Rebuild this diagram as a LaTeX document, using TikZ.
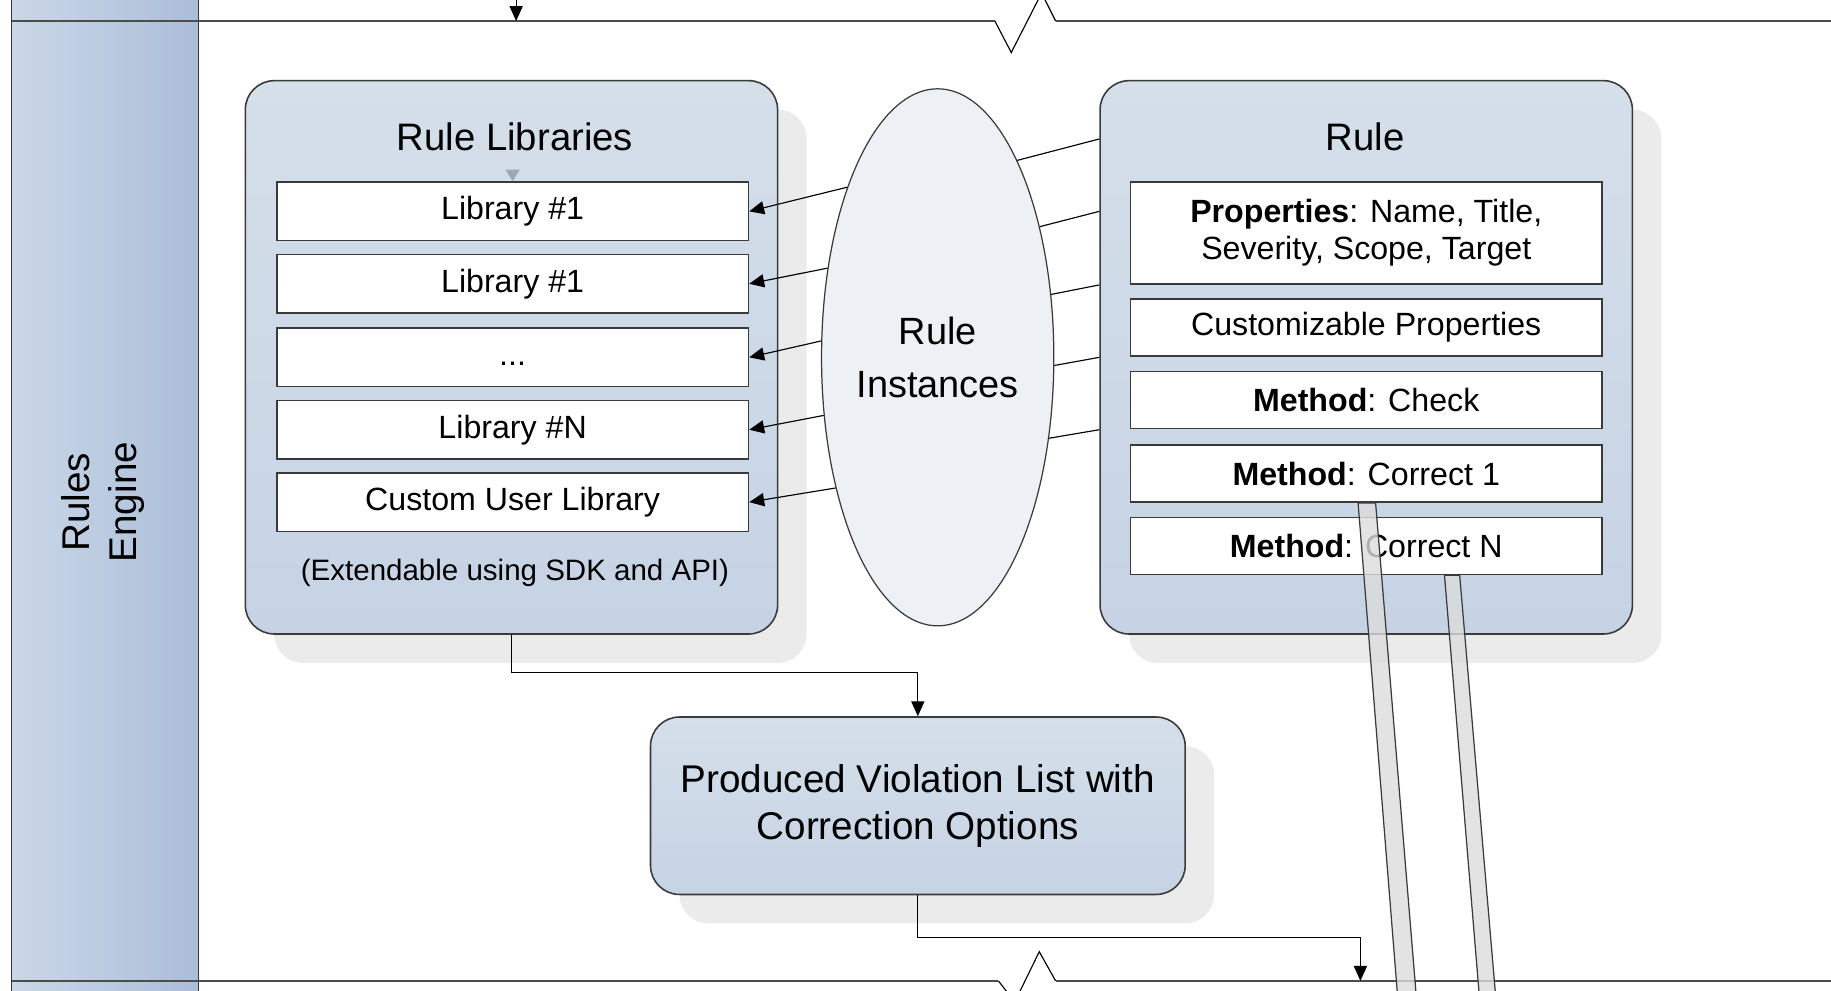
\documentclass[tikz,border=0pt]{standalone}
\usepackage{fontspec}
\setmainfont{Liberation Sans}
\usetikzlibrary{shapes.geometric,shadows,arrows.meta,calc}

\definecolor{panelTop}{HTML}{D5DFEA}
\definecolor{panelBot}{HTML}{C6D3E4}
\definecolor{laneL}{HTML}{CAD7E8}
\definecolor{laneR}{HTML}{ABBED8}
\definecolor{ovalFill}{HTML}{EDF1F6}
\definecolor{shadowGray}{HTML}{EBEBEB}
\definecolor{barGray}{HTML}{DCDCDC}
\definecolor{edgeGray}{HTML}{3A3A3A}
\definecolor{tipGray}{HTML}{9DA8B5}

\begin{document}
\begin{tikzpicture}[x=0.023354cm, y=-0.023354cm]

    \tikzset{
        panel/.style={
            draw=edgeGray,
            line width=0.9pt,
            rounded corners=0.58cm,
            top color=panelTop,
            bottom color=panelBot,
            drop shadow={shadow xshift=0.58cm, shadow yshift=-0.58cm,
                fill=shadowGray, opacity=1},
            minimum width=10.649cm,
            inner sep=0pt
        },
        row/.style={
            draw=edgeGray,
            line width=0.9pt,
            fill=white,
            minimum width=9.435cm,
            minimum height=1.168cm,
            inner sep=0pt,
            align=center,
            font=\fontsize{18.3}{21.3}\selectfont
        },
        heading/.style={font=\fontsize{21.8}{26.6}\selectfont, align=center},
        note/.style={font=\fontsize{16.8}{20}\selectfont},
        oval/.style={
            draw=edgeGray,
            ellipse,
            line width=0.7pt,
            fill=ovalFill,
            minimum width=4.647cm,
            minimum height=10.743cm,
            inner sep=0pt,
            align=center,
            font=\fontsize{21.6}{30.6}\selectfont
        },
        link/.style={line width=0.65pt, black},
        arr/.style={link, -{Triangle[length=8.5pt, width=7.5pt]}},
        rail/.style={line width=1.5pt, black!70},
        bar/.style={fill=barGray, fill opacity=0.8, draw=edgeGray, line width=0.7pt}
    }

    \useasboundingbox (0,0) rectangle (1568,848);
    \clip (0,0) rectangle (1568,848);
    \fill[white] (0,0) rectangle (1568,848);

    % lane
    \shade[left color=laneL, right color=laneR] (10,-5) rectangle (170,855);
    \draw[line width=0.9pt, edgeGray] (10,-5) -- (10,855) (170,-5) -- (170,855);
    \node[font=\fontsize{22}{27}\selectfont, align=center, rotate=90] (lane) at (88,430) {Rules\\Engine};

    % lane borders
    \draw[rail] (10,18) -- (852,18) (904,18) -- (1575,18);
    \draw[link] (852,18) -- (866,45) -- (892,-6) -- (904,18);
    \draw[rail] (10,840) -- (855,840) (904,840) -- (1575,840);
    \draw[link] (855,840) -- (869,858) -- (890,815) -- (904,840);

    \coordinate (topsrc) at (442,-5);
    \coordinate (topdst) at (442,18);
    \draw[arr] (topsrc) -- (topdst);

    % rule libraries
    \node[panel, minimum height=11.070cm] (libs) at (438,306) {};
    \node[heading] (libtitle) at (441,117) {Rule Libraries};
    \node[row] (lib1) at (439,181) {Library \#1};
    \node[row] (lib2) at (439,243) {Library \#1};
    \node[row] (lib3) at (439,306) {\vphantom{Ly}...};
    \node[row] (lib4) at (439,368) {Library \#N};
    \node[row] (lib5) at (439,430) {Custom User Library};
    \node[note] (ext) at (441,491) {(Extendable using SDK and API)};
    \fill[tipGray] ($(lib1.north)+(-6,-10)$) -- (lib1.north) -- ($(lib1.north)+(6,-10)$) -- cycle;

    % rule
    \node[panel, minimum height=11.070cm] (rule) at (1170,306) {};
    \node[heading] (ruletitle) at (1169,117) {Rule};
    \node[row, minimum height=2.032cm] (props) at (1170,199.5) {\textbf{Properties}: Name, Title,\\Severity, Scope, Target};
    \node[row, minimum height=1.144cm] (custom) at (1170,280.5) {Customizable Properties};
    \node[row, minimum height=1.144cm] (check) at (1170,342.5) {\textbf{Method}: Check};
    \node[row, minimum height=1.144cm] (cor1) at (1170,405.5) {\textbf{Method}: Correct 1};
    \node[row, minimum height=1.144cm] (corn) at (1170,467.5) {\textbf{Method}: Correct N};

    % instances
    \node[oval] (inst) at (803,306) {Rule\\Instances};
    \foreach \a/\n in {118/lib1, 141/lib2, 172/lib3, 207/lib4, 232/lib5}
        \draw[arr] (inst.\a) -- (\n.east);
    \foreach \a/\y in {68.6/119, 52.5/181, 29/244, -4/306, -36.5/368}
        \draw[link] (inst.\a) -- (rule.west |- 0,\y);

    % result
    \node[panel, minimum width=10.696cm, minimum height=3.550cm,
        font=\fontsize{22}{26.6}\selectfont, align=center] (prod) at (786,690)
        {Produced Violation List with\\Correction Options};
    \draw[arr] (libs.south) -- ++(0,32) -| (prod.north);
    \coordinate (laneout) at (1165,840);
    \draw[arr] (prod.south) -- ++(0,36) -| (laneout);

    % outgoing bars
    \filldraw[bar] (1163,0 |- cor1.south) -- (1178,0 |- cor1.south) -- (1213,855) -- (1197,855) -- cycle;
    \filldraw[bar] (1237,0 |- corn.south) -- (1250,0 |- corn.south) -- (1281,855) -- (1267,855) -- cycle;

\end{tikzpicture}
\end{document}
